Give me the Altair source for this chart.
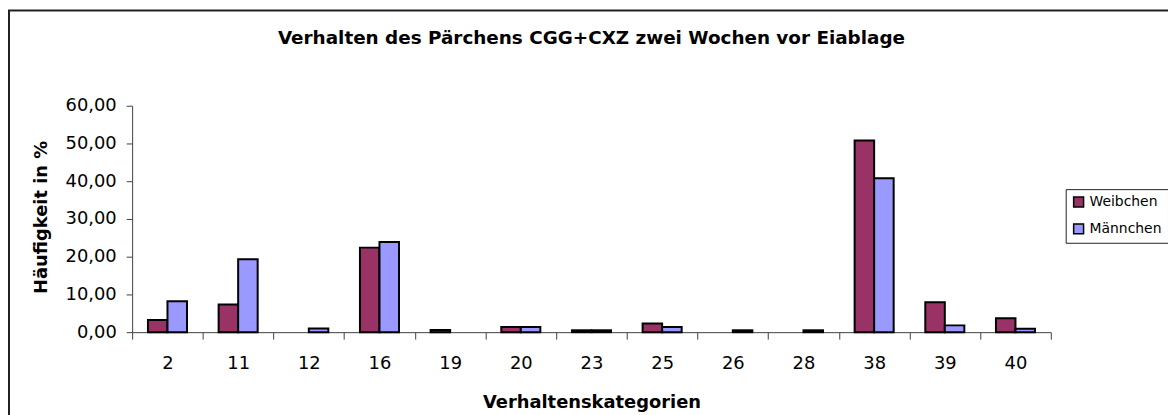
import altair as alt
import pandas as pd

categories = ["2", "11", "12", "16", "19", "20", "23", "25", "26", "28", "38", "39", "40"]
weibchen = [3.2, 7.3, 0, 22.4, 0.6, 1.4, 0.5, 2.3, 0, 0, 50.8, 7.9, 3.7]
maennchen = [8.2, 19.3, 1.0, 23.9, 0, 1.4, 0.5, 1.4, 0.5, 0.5, 40.8, 1.8, 0.9]
series = ["Weibchen", "Männchen"]
colors = ["#993366", "#9999FF"]
y_ticks = [0, 10, 20, 30, 40, 50, 60]
title_text = "Verhalten des Pärchens CGG+CXZ zwei Wochen vor Eiablage"

rows = []
for c, w, m in zip(categories, weibchen, maennchen):
    rows.append({"kat": c, "serie": series[0], "wert": w})
    rows.append({"kat": c, "serie": series[1], "wert": m})
df = pd.DataFrame(rows)

W, H = 925, 228
FONT = "DejaVu Sans"
AX = "#404040"

bars = alt.Chart(df).transform_filter("datum.wert > 0").mark_bar(
    stroke="black", strokeWidth=2
).encode(
    x=alt.X("kat:N", sort=categories,
            scale=alt.Scale(paddingInner=0, paddingOuter=0),
            axis=alt.Axis(title="Verhaltenskategorien", labelAngle=0, tickBand="extent",
                          tickSize=7, labelPadding=16, domainColor=AX, tickColor=AX,
                          labelFont=FONT, labelFontSize=18, labelColor="black",
                          titleFont=FONT, titleFontSize=18, titleFontWeight="bold",
                          titleColor="black", titleY=71, titleBaseline="middle")),
    xOffset=alt.XOffset("serie:N", sort=series,
                        scale=alt.Scale(paddingOuter=0.81, paddingInner=0)),
    y=alt.Y("wert:Q", scale=alt.Scale(domain=[0, 60], nice=False),
            axis=alt.Axis(values=y_ticks, grid=False,
                          labelExpr="replace(format(datum.value, '.2f'), '.', ',')",
                          title="Häufigkeit in %", tickSize=6, labelPadding=10,
                          domainColor=AX, tickColor=AX,
                          labelFont=FONT, labelFontSize=18, labelColor="black",
                          titleFont=FONT, titleFontSize=18, titleFontWeight="bold",
                          titleColor="black", titleX=-91, titleY=112,
                          titleBaseline="middle", titleAngle=270, titleAlign="center")),
    color=alt.Color("serie:N", sort=series,
                    scale=alt.Scale(domain=series, range=colors),
                    legend=alt.Legend(title=None, orient="none", legendX=940, legendY=84,
                                      strokeColor="#222", fillColor="white", padding=6,
                                      symbolType="square", symbolSize=100,
                                      symbolStrokeColor="black", symbolStrokeWidth=1.5,
                                      labelFont=FONT, labelFontSize=14, labelColor="black",
                                      rowPadding=11, labelOffset=4)),
)

frame = alt.Chart(alt.Data(values=[{}])).mark_rect(
    filled=False, stroke="#222", strokeWidth=2
).encode(
    x=alt.value(-124), y=alt.value(-96), x2=alt.value(W + 300), y2=alt.value(H + 300)
)

title = alt.Chart(alt.Data(values=[{}])).mark_text(
    text=title_text, font=FONT, fontSize=18.5, fontWeight="bold",
    align="center", baseline="middle", color="black"
).encode(x=alt.value(W / 2), y=alt.value(-68))

chart = alt.layer(frame, title, bars).properties(
    width=W, height=H,
    padding={"left": 125, "top": 97, "right": 118, "bottom": 82},
    autosize=alt.AutoSizeParams(type="none"),
    background="white",
).configure_view(stroke="transparent")

chart.save("out.html", embed_options={"renderer": "svg", "actions": False})
